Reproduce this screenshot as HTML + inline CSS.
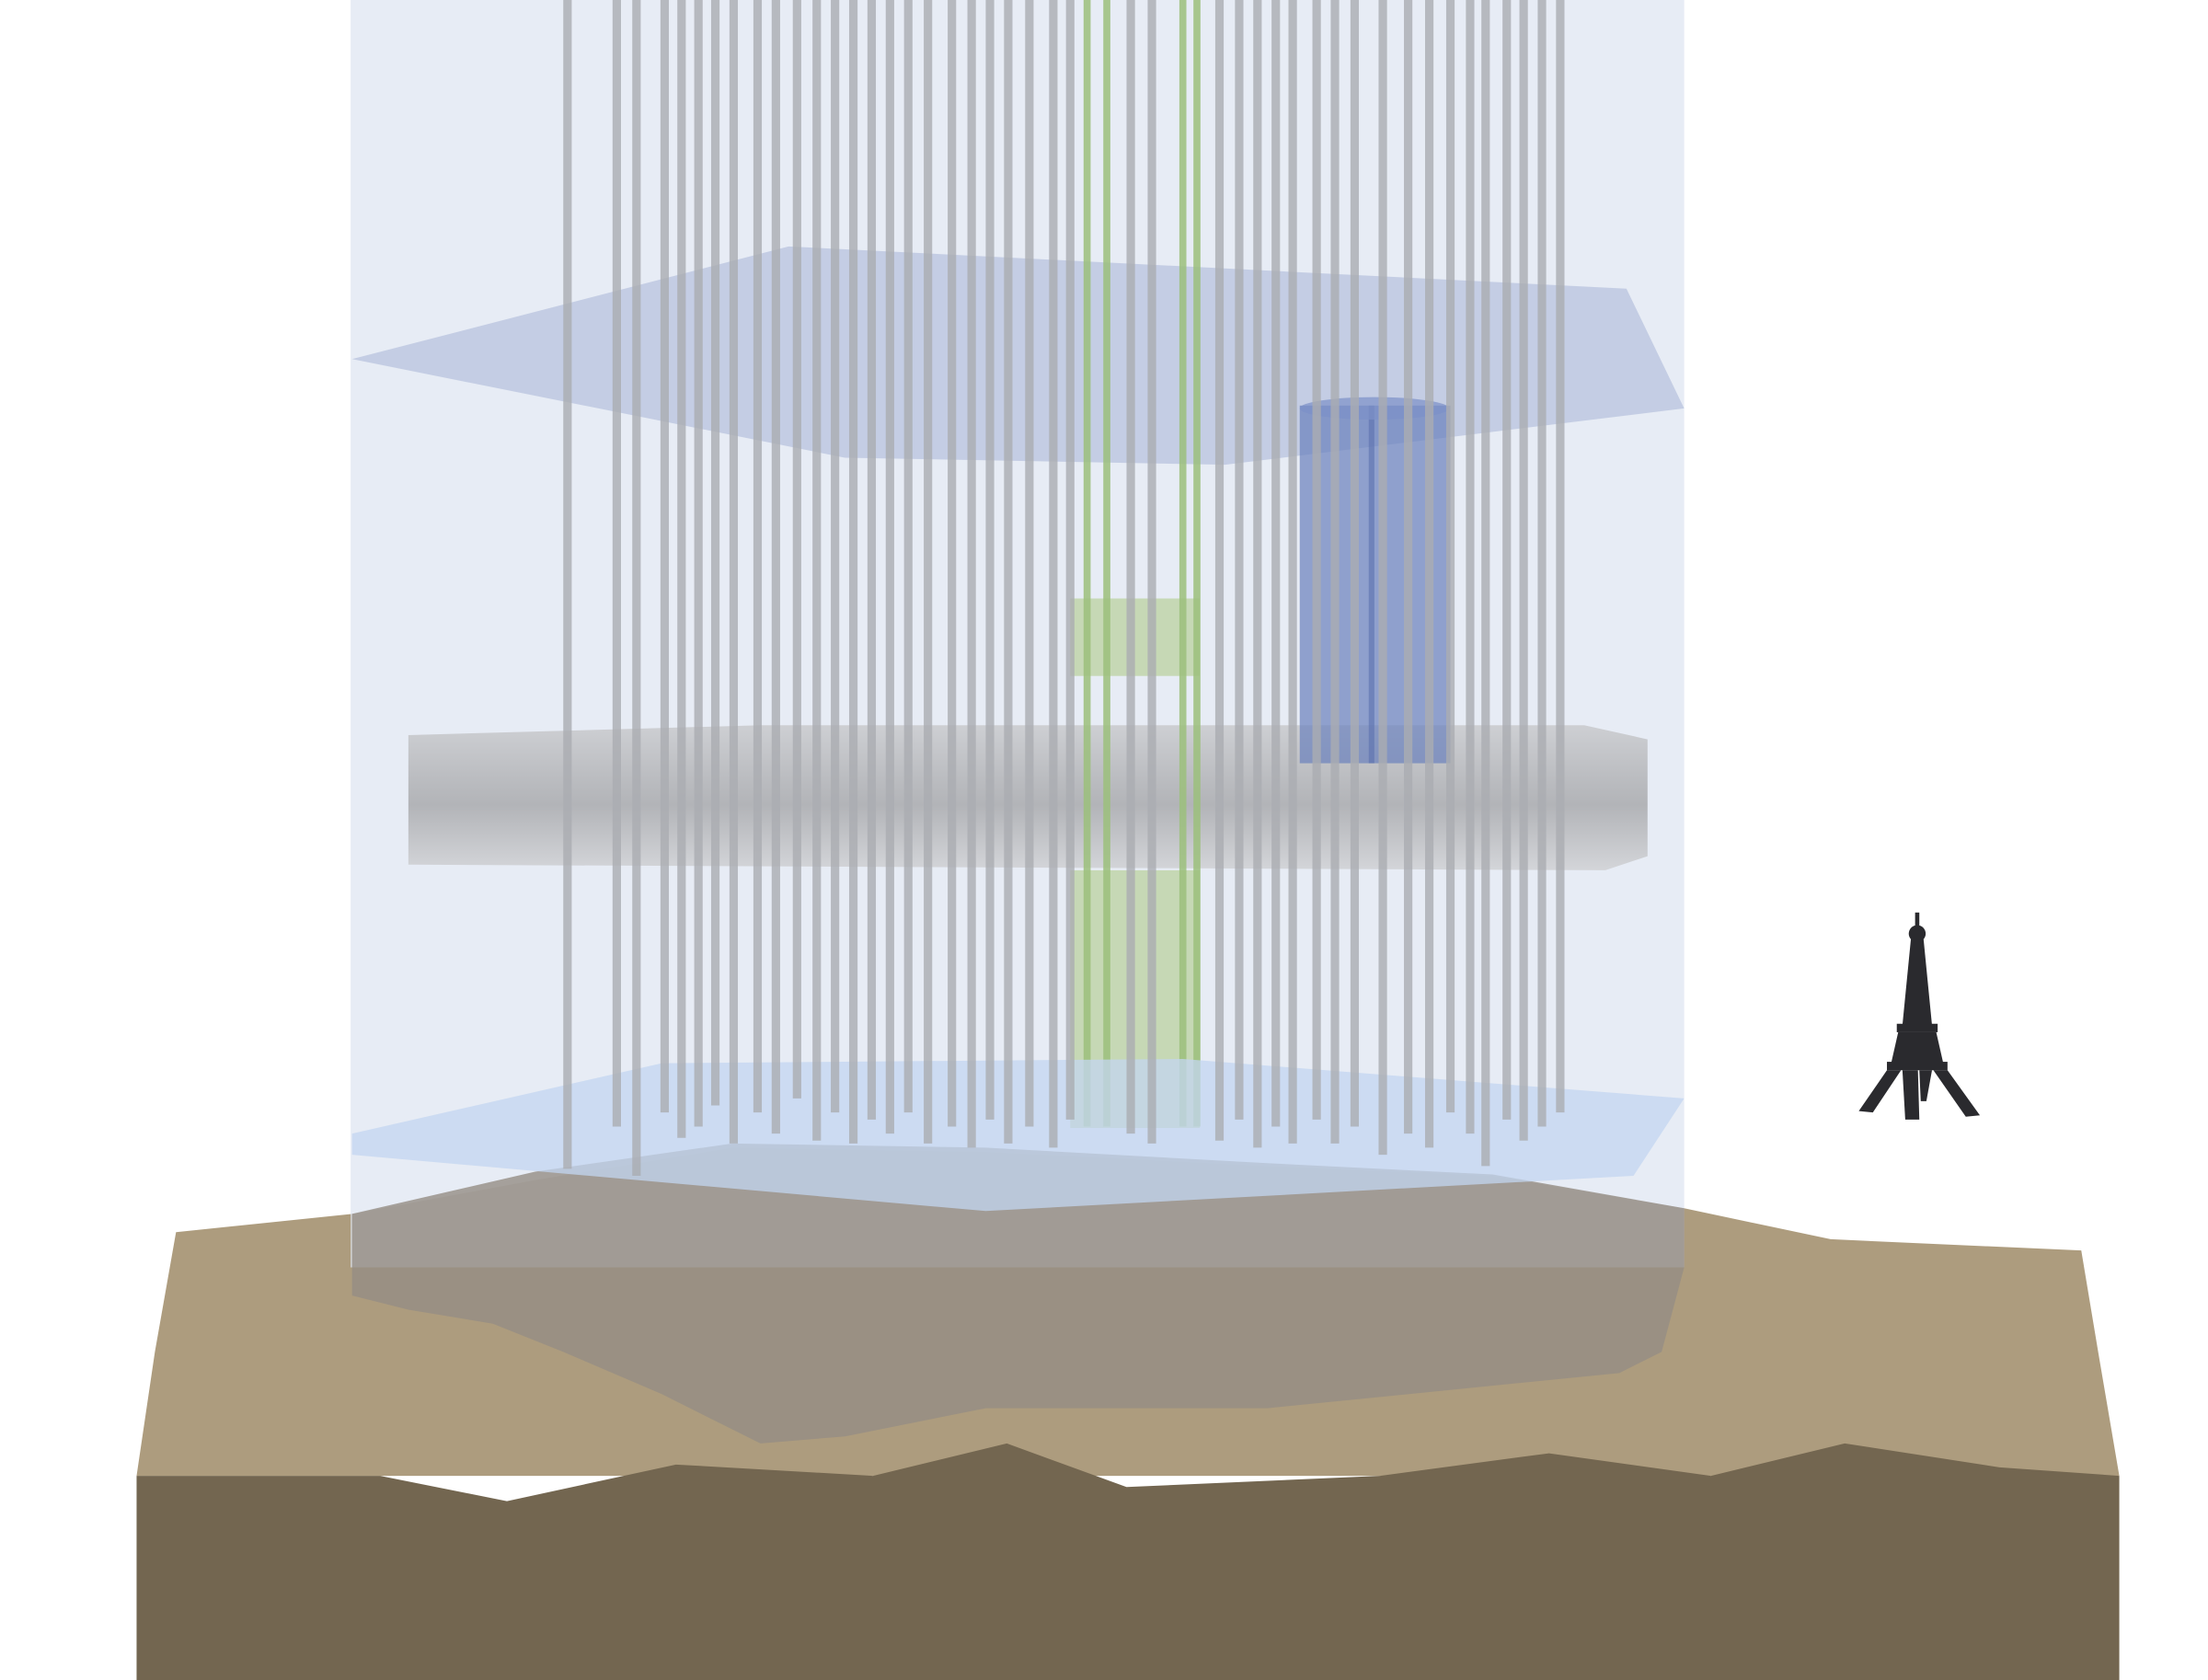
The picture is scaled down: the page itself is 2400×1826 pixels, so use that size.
<!DOCTYPE html>
<html><head><style>html,body{margin:0;padding:0;background:#fff}svg{display:block}</style></head>
<body>
<svg width="2400" height="1826" viewBox="0 0 1568 1193" xmlns="http://www.w3.org/2000/svg" preserveAspectRatio="none">
<defs>
<linearGradient id="slab" x1="0" y1="0" x2="0" y2="1">
<stop offset="0" stop-color="#c9cacd"/><stop offset="0.35" stop-color="#b4b5b8"/><stop offset="0.55" stop-color="#a9aaad"/><stop offset="1" stop-color="#d0d1d4"/></linearGradient>
</defs>
<rect width="1568" height="1193" fill="#fff"/>
<polygon points="125,875 250,862 380,838 520,815 700,818 900,828 1060,835 1196,858 1300,880 1478,888 1490,960 1505,1048 97,1048 110,960" fill="#ad9c7e"/>
<polygon points="97,1048 270,1048 360,1066 480,1040 620,1048 715,1025 800,1056 980,1048 1100,1032 1215,1048 1310,1025 1420,1042 1505,1048 1505,1193 97,1193" fill="#736650"/>
<rect x="249" y="0" width="947" height="900" fill="#dfe6f2" opacity="0.75"/>
<polygon points="250,862 380,832 520,812 700,815 900,826 1060,834 1196,858 1196,900 1180,960 1150,975 900,1000 700,1000 600,1020 540,1025 470,990 400,960 350,940 290,930 250,920" fill="#958d85" opacity="0.8"/>
<polygon points="250,255 560,175 1155,205 1196,290 870,330 600,325" fill="#a7b4d6" opacity="0.55"/>
<polygon points="290,522 540,515 1125,515 1170,525 1170,608 1140,618 290,614" fill="url(#slab)" opacity="0.85"/>
<rect x="923" y="288" width="107" height="254" fill="#6a80bc" opacity="0.7"/>
<rect x="972" y="288" width="4" height="254" fill="#5a70ae" opacity="0.6"/>
<ellipse cx="976" cy="290" rx="53" ry="8" fill="#7c90c8" opacity="0.7"/>
<rect x="760" y="425" width="92" height="55" fill="#b8d09a" opacity="0.7"/>
<rect x="760" y="618" width="92" height="183" fill="#b8d09a" opacity="0.7"/>
<g stroke="#9cc07c" stroke-width="5" opacity="0.85">
<line x1="772" y1="0" x2="772" y2="800"/><line x1="786" y1="0" x2="786" y2="800"/><line x1="840" y1="0" x2="840" y2="800"/><line x1="850" y1="0" x2="850" y2="800"/>
</g>
<polygon points="250,805 470,755 840,752 1196,780 1160,835 700,860 250,820" fill="#c3d6f0" opacity="0.75"/>
<g stroke="#abadb2" stroke-width="6" opacity="0.8">
<line x1="403" y1="0" x2="403" y2="830"/><line x1="438" y1="0" x2="438" y2="800"/><line x1="452" y1="0" x2="452" y2="835"/><line x1="472" y1="0" x2="472" y2="790"/><line x1="484" y1="0" x2="484" y2="808"/><line x1="496" y1="0" x2="496" y2="800"/><line x1="508" y1="0" x2="508" y2="785"/><line x1="521" y1="0" x2="521" y2="812"/><line x1="538" y1="0" x2="538" y2="790"/><line x1="551" y1="0" x2="551" y2="805"/><line x1="566" y1="0" x2="566" y2="780"/><line x1="580" y1="0" x2="580" y2="810"/><line x1="593" y1="0" x2="593" y2="790"/><line x1="606" y1="0" x2="606" y2="812"/><line x1="619" y1="0" x2="619" y2="795"/><line x1="632" y1="0" x2="632" y2="805"/><line x1="645" y1="0" x2="645" y2="790"/><line x1="659" y1="0" x2="659" y2="812"/><line x1="676" y1="0" x2="676" y2="800"/><line x1="690" y1="0" x2="690" y2="815"/><line x1="703" y1="0" x2="703" y2="795"/><line x1="716" y1="0" x2="716" y2="812"/><line x1="731" y1="0" x2="731" y2="800"/><line x1="748" y1="0" x2="748" y2="815"/><line x1="760" y1="0" x2="760" y2="795"/><line x1="803" y1="0" x2="803" y2="805"/><line x1="818" y1="0" x2="818" y2="812"/><line x1="866" y1="0" x2="866" y2="810"/><line x1="880" y1="0" x2="880" y2="795"/><line x1="893" y1="0" x2="893" y2="815"/><line x1="906" y1="0" x2="906" y2="800"/><line x1="918" y1="0" x2="918" y2="812"/><line x1="935" y1="0" x2="935" y2="795"/><line x1="948" y1="0" x2="948" y2="812"/><line x1="962" y1="0" x2="962" y2="800"/><line x1="982" y1="0" x2="982" y2="820"/><line x1="1000" y1="0" x2="1000" y2="805"/><line x1="1015" y1="0" x2="1015" y2="815"/><line x1="1030" y1="0" x2="1030" y2="790"/><line x1="1044" y1="0" x2="1044" y2="805"/><line x1="1055" y1="0" x2="1055" y2="828"/><line x1="1070" y1="0" x2="1070" y2="795"/><line x1="1082" y1="0" x2="1082" y2="810"/><line x1="1095" y1="0" x2="1095" y2="800"/><line x1="1108" y1="0" x2="1108" y2="790"/>
</g>
<g fill="#2a2a2e">
<rect x="1360" y="648" width="3" height="12"/>
<ellipse cx="1361.5" cy="663" rx="6" ry="6"/>
<polygon points="1357,667 1366,667 1372,728 1351,728"/>
<rect x="1347" y="727" width="29" height="6"/>
<polygon points="1348,733 1375,733 1380,755 1343,755"/>
<rect x="1340" y="754" width="43" height="6"/>
<polygon points="1340,760 1350,760 1330,790 1320,789"/>
<polygon points="1373,760 1383,760 1406,792 1396,793"/>
<polygon points="1351,760 1362,760 1363,795 1353,795"/>
<polygon points="1363,760 1372,760 1368,782 1364,782"/>
</g>
</svg>
</body></html>
